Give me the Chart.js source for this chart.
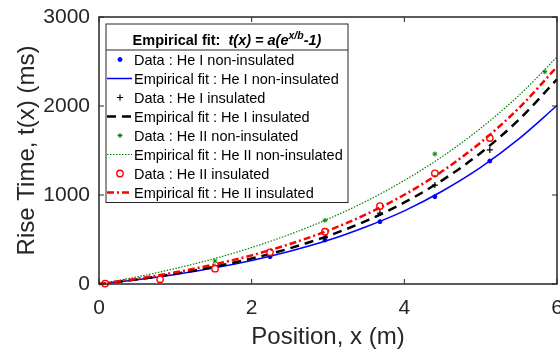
<!DOCTYPE html>
<html>
<head>
<meta charset="utf-8">
<script src="https://cdn.jsdelivr.net/npm/chart.js@4.4.1/dist/chart.umd.min.js"></script>
<style>
  html, body { margin: 0; padding: 0; background: #fff; }
</style>
</head>
<body>
<canvas id="riseChart" width="560" height="352"></canvas>
<script>
// positions of the measurement points (m)
const dataX = [0.08, 0.8, 1.52, 2.24, 2.96, 3.68, 4.4, 5.12];
const dataXHe2Non = [0.08, 1.52, 2.96, 4.4, 5.84];

// measured rise times (ms)
const heINonData = [10, 56, 176, 307, 494, 700, 981, 1382];
const heIInsData = [10, 60, 185, 330, 520, 797, 1112, 1506];
const heIINonData = [15, 258, 715, 1461, 2385];
const heIIInsData = [5, 53, 172, 356, 588, 876, 1243, 1640];

// empirical fit curves
const fitX = [0, 0.5, 1, 1.5, 2, 2.5, 3, 3.5, 4, 4.5, 5, 5.5, 6];
const heINonFit = [0, 49, 108, 179, 265, 368, 491, 644, 822, 1045, 1310, 1630, 2005];
const heIInsFit = [0, 52, 115, 192, 286, 401, 540, 709, 916, 1167, 1473, 1845, 2300];
const heIINonFit = [0, 80, 174, 283, 410, 558, 730, 930, 1163, 1434, 1750, 2118, 2550];
const heIIInsFit = [0, 60, 131, 218, 322, 449, 600, 783, 1003, 1269, 1590, 1976, 2440];

const xTicks = [0, 2, 4, 6];
const yTicks = [0, 1000, 2000, 3000];

const labels = [
    'Data : He I non-insulated',
    'Empirical fit : He I non-insulated',
    'Data : He I insulated',
    'Empirical fit : He I insulated',
    'Data : He II non-insulated',
    'Empirical fit : He II non-insulated',
    'Data : He II insulated',
    'Empirical fit : He II insulated'
];

const AXIS = '#262626';
const FONT = '"Liberation Sans", Arial, Helvetica, sans-serif';

function pts(xs, ys) {
    return xs.map((x, i) => ({ x: x, y: ys[i] }));
}

function dataSet(i, xs, ys, style, radius, color, fill, bw) {
    return {
        label: labels[i], data: pts(xs, ys), showLine: false,
        pointStyle: style, pointRadius: radius, pointHoverRadius: radius,
        borderColor: color, backgroundColor: fill, pointBorderWidth: bw,
        order: 8 - i, clip: false
    };
}

function fitSet(i, ys, color, width, dash) {
    return {
        label: labels[i], data: pts(fitX, ys), showLine: true,
        pointRadius: 0, borderColor: color, backgroundColor: color,
        borderWidth: width, borderDash: dash, cubicInterpolationMode: 'monotone',
        order: 8 - i, clip: false
    };
}

const datasets = [
    dataSet(0, dataX, heINonData, 'circle', 2, '#0000ff', '#0000ff', 1),
    fitSet(1, heINonFit, '#0000ff', 1.5, []),
    dataSet(2, dataX, heIInsData, 'cross', 3, '#000000', '#000000', 1.2),
    fitSet(3, heIInsFit, '#000000', 2.5, [9, 6]),
    dataSet(4, dataXHe2Non, heIINonData, 'star', 2.5, '#008000', '#008000', 1),
    fitSet(5, heIINonFit, '#008000', 1.2, [1.5, 1.5]),
    dataSet(6, dataX, heIIInsData, 'circle', 3.2, '#ff0000', '#ffffff', 1.4),
    fitSet(7, heIIInsFit, '#ff0000', 2.5, [7, 3, 2, 3])
];

// box round the plot, with inward ticks on all four sides
const boxPlugin = {
    id: 'boxPlugin',
    afterDatasetsDraw(chart) {
        const { ctx, chartArea: a, scales } = chart;
        const tl = 5;
        ctx.save();
        ctx.strokeStyle = AXIS;
        ctx.lineWidth = 1.5;
        ctx.setLineDash([]);
        ctx.strokeRect(a.left, a.top, a.right - a.left, a.bottom - a.top);
        ctx.lineWidth = 1;
        ctx.beginPath();
        xTicks.forEach(v => {
            const px = scales.x.getPixelForValue(v);
            ctx.moveTo(px, a.bottom); ctx.lineTo(px, a.bottom - tl);
            ctx.moveTo(px, a.top); ctx.lineTo(px, a.top + tl);
        });
        yTicks.forEach(v => {
            const py = scales.y.getPixelForValue(v);
            ctx.moveTo(a.left, py); ctx.lineTo(a.left + tl, py);
            ctx.moveTo(a.right, py); ctx.lineTo(a.right - tl, py);
        });
        ctx.stroke();
        ctx.restore();
    }
};

function drawMarker(ctx, ds, x, y) {
    ctx.save();
    ctx.strokeStyle = ds.borderColor;
    ctx.fillStyle = ds.backgroundColor;
    ctx.lineWidth = ds.pointBorderWidth;
    const r = ds.pointRadius;
    ctx.beginPath();
    if (ds.pointStyle === 'circle') {
        ctx.arc(x, y, r, 0, Math.PI * 2);
        ctx.fill();
        ctx.stroke();
    } else if (ds.pointStyle === 'cross') {
        ctx.moveTo(x - r, y); ctx.lineTo(x + r, y);
        ctx.moveTo(x, y - r); ctx.lineTo(x, y + r);
        ctx.stroke();
    } else {
        ctx.moveTo(x - r, y); ctx.lineTo(x + r, y);
        ctx.moveTo(x, y - r); ctx.lineTo(x, y + r);
        ctx.moveTo(x - r * 0.7, y - r * 0.7); ctx.lineTo(x + r * 0.7, y + r * 0.7);
        ctx.moveTo(x - r * 0.7, y + r * 0.7); ctx.lineTo(x + r * 0.7, y - r * 0.7);
        ctx.stroke();
    }
    ctx.restore();
}

// legend box with formula title, drawn inside the plot
const legendPlugin = {
    id: 'legendPlugin',
    afterDraw(chart) {
        const { ctx, chartArea: a } = chart;
        const left = a.left + 7, top = a.top + 7, w = 242;
        const titleH = 26, rowH = 19;
        const h = titleH + rowH * labels.length + 0.5;
        ctx.save();
        ctx.fillStyle = '#ffffff';
        ctx.fillRect(left, top, w, h);
        ctx.strokeStyle = AXIS;
        ctx.lineWidth = 1;
        ctx.strokeRect(left, top, w, h);
        ctx.beginPath();
        ctx.moveTo(left, top + titleH); ctx.lineTo(left + w, top + titleH);
        ctx.stroke();

        // title: Empirical fit: t(x) = a(e^(x/b) - 1)
        const parts = [
            { t: 'Empirical fit:  ', f: 'bold 14.5px ' + FONT, dy: 0 },
            { t: 't(x) = a(e', f: 'italic bold 14.5px ' + FONT, dy: 0 },
            { t: 'x/b', f: 'italic bold 10.5px ' + FONT, dy: -6 },
            { t: '-1)', f: 'italic bold 14.5px ' + FONT, dy: 0 }
        ];
        let total = 0;
        parts.forEach(p => { ctx.font = p.f; p.w = ctx.measureText(p.t).width; total += p.w; });
        let tx = left + w / 2 - total / 2;
        const tBase = top + 21;
        ctx.fillStyle = '#000000';
        ctx.textBaseline = 'alphabetic';
        parts.forEach(p => { ctx.font = p.f; ctx.fillText(p.t, tx, tBase + p.dy); tx += p.w; });

        ctx.font = '14.5px ' + FONT;
        ctx.textBaseline = 'middle';
        chart.data.datasets.forEach((ds, i) => {
            const cy = top + titleH + 9.5 + rowH * i;
            if (ds.showLine) {
                ctx.save();
                ctx.strokeStyle = ds.borderColor;
                ctx.lineWidth = ds.borderWidth;
                ctx.setLineDash(ds.borderDash);
                ctx.beginPath();
                ctx.moveTo(left + 1, cy); ctx.lineTo(left + 26, cy);
                ctx.stroke();
                ctx.restore();
            } else {
                drawMarker(ctx, ds, left + 14, cy);
            }
            ctx.fillStyle = '#000000';
            ctx.fillText(ds.label, left + 28, cy + 1);
        });
        ctx.restore();
    }
};

function noPad(s) {
    s.paddingLeft = 0; s.paddingRight = 0; s.paddingTop = 0; s.paddingBottom = 0;
}

new Chart(document.getElementById('riseChart'), {
    type: 'scatter',
    data: { datasets: datasets },
    options: {
        responsive: false,
        animation: false,
        events: [],
        layout: { autoPadding: false, padding: { top: 17, right: 3, left: 0, bottom: 0 } },
        plugins: { legend: { display: false }, tooltip: { enabled: false } },
        scales: {
            x: {
                type: 'linear', min: 0, max: 6,
                afterFit: s => { s.height = 68; noPad(s); },
                afterBuildTicks: s => { s.ticks = xTicks.map(v => ({ value: v })); },
                grid: { display: false, drawTicks: false },
                border: { display: false },
                ticks: { color: AXIS, padding: 12, font: { family: FONT, size: 21 },
                         callback: v => String(v) },
                title: { display: true, text: 'Position, x (m)', color: AXIS,
                         padding: { top: -2, bottom: 0 },
                         font: { family: FONT, size: 24 } }
            },
            y: {
                type: 'linear', min: 0, max: 3000,
                afterFit: s => { s.width = 99; noPad(s); },
                afterBuildTicks: s => { s.ticks = yTicks.map(v => ({ value: v })); },
                grid: { display: false, drawTicks: false },
                border: { display: false },
                ticks: { color: AXIS, padding: 9, font: { family: FONT, size: 21 },
                         callback: v => String(v) },
                title: { display: true, text: 'Rise Time, t(x) (ms)', color: AXIS, padding: 13,
                         font: { family: FONT, size: 24 } }
            }
        }
    },
    plugins: [boxPlugin, legendPlugin]
});
</script>
</body>
</html>
